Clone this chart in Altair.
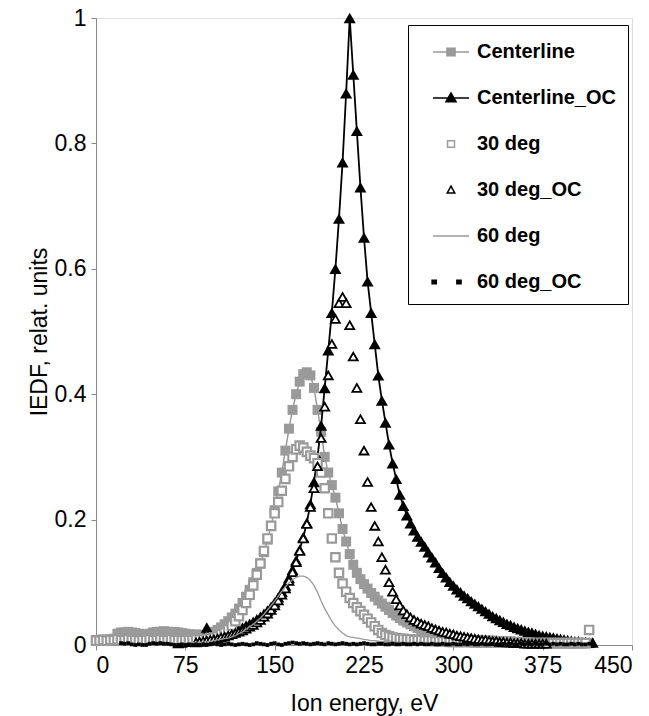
import altair as alt
import pandas as pd

# ---------------- data ----------------
ENERGY = [0, 3, 6, 9, 12, 15, 18, 21, 24, 27,
          30, 33, 36, 39, 42, 45, 48, 51, 54, 57,
          60, 63, 66, 69, 72, 75, 78, 81, 84, 87,
          90, 93, 96, 99, 102, 105, 108, 111, 114, 117,
          120, 123, 126, 129, 132, 135, 138, 141, 144, 147,
          150, 153, 156, 159, 162, 165, 168, 171, 174, 177,
          180, 183, 186, 189, 192, 195, 198, 201, 204, 207,
          210, 213, 216, 219, 222, 225, 228, 231, 234, 237,
          240, 243, 246, 249, 252, 255, 258, 261, 264, 267,
          270, 273, 276, 279, 282, 285, 288, 291, 294, 297,
          300, 303, 306, 309, 312, 315, 318, 321, 324, 327,
          330, 333, 336, 339, 342, 345, 348, 351, 354, 357,
          360, 363, 366, 369, 372, 375, 378, 381, 384, 387,
          390, 393, 396, 399, 402, 405, 408, 411, 414, 417,
          420]

N = None

CENTERLINE = [0.008, 0.008, 0.009, 0.008, 0.009, 0.010, 0.018, 0.020, 0.020, 0.021,
              0.020, 0.019, 0.018, 0.017, 0.016, 0.018, 0.020, 0.021, 0.021, 0.022,
              0.021, 0.020, 0.021, 0.020, 0.019, 0.018, 0.017, 0.016, 0.017, 0.016,
              0.015, 0.016, 0.018, 0.021, 0.024, 0.028, 0.033, 0.038, 0.044, 0.050,
              0.058, 0.067, 0.077, 0.088, 0.100, 0.115, 0.130, 0.148, 0.168, 0.190,
              0.215, 0.245, 0.275, 0.310, 0.345, 0.375, 0.400, 0.420, 0.432, 0.435,
              0.430, 0.410, 0.375, 0.340, 0.300, 0.275, 0.255, 0.235, 0.210, 0.185,
              0.165, 0.145, 0.128, 0.115, 0.105, 0.097, 0.090, 0.083, 0.077, 0.071,
              0.066, 0.061, 0.056, 0.051, 0.047, 0.043, 0.039, 0.036, 0.033, 0.030,
              0.027, 0.024, 0.021, 0.019, 0.017, 0.015, 0.014, 0.013, 0.012, 0.011,
              0.010, 0.010, 0.009, 0.009, 0.009, 0.008, 0.008, 0.008, 0.007, 0.007,
              0.007, 0.007, 0.006, 0.006, 0.006, 0.006, 0.006, 0.005, 0.005, 0.005,
              0.005, 0.005, 0.005, 0.004, 0.004, 0.004, 0.004, 0.004, 0.004, 0.004,
              0.004, 0.003, 0.003, 0.003, 0.003, 0.003, 0.003, 0.003, 0.003, N,
              N]

CENTERLINE_OC = [N, N, N, N, N, N, N, N, N, N,
                 N, N, N, N, N, N, N, N, N, N,
                 N, N, N, 0.003, 0.004, 0.005, 0.006, 0.007, 0.008, 0.009,
                 0.012, 0.028, 0.012, 0.013, 0.014, 0.016, 0.018, 0.020, 0.022, 0.024,
                 0.026, 0.028, 0.031, 0.034, 0.037, 0.041, 0.045, 0.050, 0.055, 0.061,
                 0.068, 0.076, 0.085, 0.095, 0.107, 0.120, 0.135, 0.152, 0.172, 0.195,
                 0.225, 0.260, 0.300, 0.350, 0.410, 0.470, 0.530, 0.600, 0.680, 0.770,
                 0.880, 1.000, 0.910, 0.820, 0.730, 0.650, 0.580, 0.530, 0.480, 0.430,
                 0.390, 0.355, 0.320, 0.290, 0.265, 0.240, 0.222, 0.207, 0.194, 0.183,
                 0.173, 0.165, 0.157, 0.148, 0.140, 0.132, 0.123, 0.115, 0.108, 0.101,
                 0.095, 0.089, 0.084, 0.079, 0.075, 0.070, 0.066, 0.062, 0.058, 0.054,
                 0.050, 0.046, 0.043, 0.040, 0.037, 0.034, 0.032, 0.029, 0.027, 0.025,
                 0.023, 0.021, 0.020, 0.018, 0.016, 0.015, 0.014, 0.013, 0.012, 0.011,
                 0.010, 0.009, 0.008, 0.007, 0.006, 0.006, 0.005, 0.005, 0.004, 0.004,
                 N]

DEG30 = [0.007, 0.007, 0.008, 0.007, 0.008, 0.008, 0.009, 0.008, 0.008, 0.009,
         0.008, 0.008, 0.007, 0.008, 0.008, 0.009, 0.008, 0.008, 0.009, 0.008,
         0.008, 0.009, 0.008, 0.008, 0.007, 0.008, 0.008, 0.008, 0.009, 0.009,
         0.009, 0.010, 0.011, 0.012, 0.014, 0.017, 0.020, 0.025, 0.031, 0.038,
         0.046, 0.056, 0.067, 0.080, 0.095, 0.112, 0.130, 0.150, 0.170, 0.190,
         0.210, 0.228, 0.246, 0.265, 0.285, 0.300, 0.312, 0.318, 0.315, 0.308,
         0.302, 0.298, 0.290, 0.275, 0.250, 0.210, 0.170, 0.140, 0.115, 0.098,
         0.085, 0.075, 0.067, 0.060, 0.054, 0.048, 0.042, 0.036, 0.030, 0.024,
         0.019, 0.016, 0.014, 0.012, 0.011, 0.010, 0.010, 0.009, 0.009, 0.008,
         0.008, 0.008, 0.007, 0.007, 0.007, 0.006, 0.006, 0.006, 0.006, 0.005,
         0.005, 0.005, 0.005, 0.005, 0.005, 0.005, 0.004, 0.004, 0.004, 0.004,
         0.004, 0.004, 0.004, 0.004, 0.004, 0.004, 0.004, 0.004, 0.004, 0.004,
         0.004, 0.004, 0.003, 0.003, 0.003, 0.003, 0.003, 0.003, 0.003, 0.003,
         0.003, 0.003, 0.003, 0.003, 0.003, 0.003, 0.003, 0.003, 0.024, N,
         N]

DEG30_OC = [N, N, N, N, N, N, N, N, N, N,
            N, N, N, N, N, N, N, N, N, N,
            N, N, N, N, N, N, N, N, 0.004, 0.005,
            0.006, 0.007, 0.008, 0.009, 0.010, 0.012, 0.013, 0.015, 0.017, 0.019,
            0.021, 0.023, 0.026, 0.029, 0.032, 0.036, 0.040, 0.045, 0.050, 0.056,
            0.063, 0.071, 0.080, 0.090, 0.102, 0.116, 0.132, 0.150, 0.170, 0.193,
            0.220, 0.250, 0.285, 0.330, 0.380, 0.430, 0.480, 0.520, 0.545, 0.555,
            0.545, 0.510, 0.460, 0.410, 0.360, 0.310, 0.260, 0.220, 0.190, 0.165,
            0.140, 0.120, 0.100, 0.085, 0.073, 0.063, 0.055, 0.049, 0.044, 0.040,
            0.037, 0.034, 0.032, 0.030, 0.027, 0.025, 0.023, 0.021, 0.020, 0.018,
            0.017, 0.015, 0.014, 0.013, 0.012, 0.011, 0.010, 0.009, 0.008, 0.008,
            0.007, 0.006, 0.006, 0.005, 0.005, 0.004, 0.004, 0.003, 0.003, 0.003,
            0.002, 0.002, 0.002, 0.002, 0.002, 0.002, 0.002, N, N, N,
            N, N, N, N, N, N, N, N, N, N,
            N]

DEG60 = [N, N, N, N, N, N, N, N, N, N,
         N, N, N, N, N, N, N, N, N, N,
         0.002, 0.002, 0.002, 0.003, 0.003, 0.003, 0.003, 0.004, 0.004, 0.004,
         0.005, 0.005, 0.006, 0.007, 0.008, 0.009, 0.010, 0.011, 0.013, 0.015,
         0.018, 0.021, 0.025, 0.029, 0.033, 0.038, 0.043, 0.049, 0.056, 0.063,
         0.070, 0.078, 0.086, 0.093, 0.099, 0.104, 0.108, 0.110, 0.110, 0.108,
         0.103, 0.095, 0.084, 0.070, 0.058, 0.048, 0.038, 0.030, 0.024, 0.019,
         0.015, 0.013, 0.012, 0.011, 0.010, 0.009, 0.008, 0.007, 0.007, 0.006,
         0.005, 0.005, 0.005, 0.004, 0.004, 0.004, 0.003, 0.003, 0.003, 0.003,
         0.002, 0.002, 0.002, 0.002, 0.002, 0.002, 0.001, 0.001, 0.001, 0.001,
         0.001, 0.001, N, N, N, N, N, N, N, N,
         N, N, N, N, N, N, N, N, N, N,
         N, N, N, N, N, N, N, N, N, N,
         N, N, N, N, N, N, N, N, N, N,
         N]

DEG60_OC = [N, N, N, N, N, N, N, 0.003, 0.002, 0.003,
            0.001, 0.000, 0.001, 0.000, 0.000, 0.002, 0.003, 0.002, 0.003, 0.002,
            0.002, 0.001, 0.000, 0.000, 0.001, 0.000, 0.001, 0.000, 0.001, 0.000,
            0.001, 0.000, 0.001, 0.002, 0.001, 0.000, 0.001, 0.002, 0.001, 0.000,
            0.001, 0.002, 0.001, 0.000, 0.001, 0.003, 0.002, 0.001, 0.000, 0.002,
            0.003, 0.001, 0.000, 0.002, 0.003, 0.004, 0.003, 0.002, 0.003, 0.002,
            0.001, 0.002, 0.003, 0.002, 0.001, 0.003, 0.002, 0.001, 0.002, 0.003,
            0.002, 0.001, 0.002, 0.001, 0.002, 0.003, 0.002, 0.001, 0.001, 0.002,
            0.002, 0.001, 0.001, 0.002, 0.001, 0.001, 0.002, 0.001, 0.001, 0.002,
            0.001, 0.002, 0.001, 0.001, 0.002, 0.001, 0.001, 0.002, 0.001, 0.001,
            0.002, 0.001, 0.001, 0.002, 0.001, 0.002, 0.001, 0.001, 0.002, 0.001,
            0.001, 0.002, 0.001, 0.001, 0.002, 0.001, 0.002, 0.001, 0.001, 0.002,
            0.001, 0.002, 0.001, 0.002, 0.001, 0.001, 0.002, 0.001, 0.002, 0.001,
            0.002, 0.001, 0.001, 0.002, 0.001, 0.002, 0.001, 0.001, 0.002, 0.002,
            N]

SERIES = ["Centerline", "Centerline_OC", "30 deg", "30 deg_OC", "60 deg", "60 deg_OC"]
X_TICKS = [0, 75, 150, 225, 300, 375, 450]
Y_TICKS = [0, 0.2, 0.4, 0.6, 0.8, 1]

# legend symbols (line + marker, as in the original spreadsheet legend)
LEGEND_SHAPES = [
    "M-1.29,0H1.29M-0.29,-0.27H0.29V0.27H-0.29Z",
    "M-1.29,0H1.29M-0.36,0.26L0.36,0.26L0,-0.36Z",
    "M-0.25,-0.23H0.25V0.23H-0.25Z",
    "M-0.27,0.22L0.27,0.22L0,-0.28Z",
    "M-1.29,0H1.29",
    "M-1.35,-0.12H-1.05V0.12H-1.35Z M0.42,-0.12H0.72V0.12H0.42Z",
]
LEGEND_FILLS = ["#9a9a9a", "black", "white", "white", "transparent", "black"]
LEGEND_STROKES = ["#9a9a9a", "black", "#9a9a9a", "black", "#9a9a9a", "black"]

GRAY = "#9a9a9a"
AXIS_FONT = "Liberation Sans, Arial, sans-serif"
LEGEND_FONT = "Liberation Sans, Arial, sans-serif"


def frame(name, values):
    df = pd.DataFrame({"energy": ENERGY, "iedf": values, "series": name})
    return df.dropna()


X = alt.X("energy:Q",
          scale=alt.Scale(domain=[0, 450], nice=False, zero=False),
          axis=alt.Axis(values=X_TICKS, title="Ion energy, eV", grid=False,
                        labelFontSize=23, titleFontSize=23, titlePadding=15,
                        labelPadding=4, titleFontWeight="normal"))
Y = alt.Y("iedf:Q",
          scale=alt.Scale(domain=[0, 1], nice=False),
          axis=alt.Axis(values=Y_TICKS, title="IEDF, relat. units", grid=False,
                        format="~g", labelFontSize=23, titleFontSize=23,
                        titlePadding=3, labelPadding=5, titleFontWeight="normal"))

cl = frame("Centerline", CENTERLINE)
cloc = frame("Centerline_OC", CENTERLINE_OC)
d30 = frame("30 deg", DEG30)
d30oc = frame("30 deg_OC", DEG30_OC)
d60 = frame("60 deg", DEG60)
d60oc = frame("60 deg_OC", DEG60_OC)

layers = [
    alt.Chart(cl).mark_line(color=GRAY, strokeWidth=1.5).encode(x=X, y=Y),
    alt.Chart(cl).mark_point(shape="square", filled=True, fill=GRAY, size=100,
                             opacity=1).encode(x=X, y=Y),
    alt.Chart(cloc).mark_line(color="black", strokeWidth=1.8).encode(x=X, y=Y),
    alt.Chart(cloc).mark_point(shape="triangle-up", filled=True, fill="black",
                               size=145, opacity=1).encode(x=X, y=Y),
    alt.Chart(d30).mark_point(shape="square", filled=True, fill="white",
                              stroke=GRAY, strokeWidth=2.2, size=70,
                              opacity=1).encode(x=X, y=Y),
    alt.Chart(d30oc).mark_point(shape="triangle-up", filled=True, fill="white",
                                stroke="black", strokeWidth=1.8, size=80,
                                opacity=1).encode(x=X, y=Y),
    alt.Chart(d60).mark_line(color=GRAY, strokeWidth=1.3).encode(x=X, y=Y),
    alt.Chart(d60oc).mark_point(shape="square", filled=True, fill="black",
                                size=14, opacity=1).encode(x=X, y=Y),
]

legend_spec = alt.Legend(
    title=None, orient="none", legendX=312, legendY=7,
    padding=12, symbolOffset=16, labelOffset=11, rowPadding=21,
    symbolSize=784, symbolStrokeWidth=1.5, labelFont=LEGEND_FONT,
    labelFontSize=20, labelFontWeight="bold", labelColor="black", labelLimit=400,
    labelExpr="datum.label + '\u00a0\u00a0'",
    strokeColor="black", fillColor="white",
)

legend_layer = alt.Chart(pd.DataFrame({"series": SERIES})).transform_filter(
    "false"
).mark_point(filled=False, size=784, opacity=1, strokeWidth=1.5).encode(
    shape=alt.Shape("series:N", scale=alt.Scale(domain=SERIES, range=LEGEND_SHAPES),
                    legend=legend_spec),
    fill=alt.Fill("series:N", scale=alt.Scale(domain=SERIES, range=LEGEND_FILLS),
                  legend=legend_spec),
    stroke=alt.Stroke("series:N", scale=alt.Scale(domain=SERIES, range=LEGEND_STROKES),
                      legend=legend_spec),
)

chart = alt.layer(*layers, legend_layer).properties(
    width=536, height=627,
    padding={"left": 96, "top": 18, "right": 17, "bottom": 71},
    autosize="none",
).configure_view(
    stroke="#8f8f8f", strokeWidth=2
).configure_axis(
    domainColor="black", domainWidth=1.5, tickColor="black", tickWidth=1.5,
    tickSize=7, labelFont=AXIS_FONT, labelColor="black", titleFont=AXIS_FONT,
    titleColor="black", titleFontWeight="normal",
).configure(background="white")

chart.save("out.html", embed_options={"renderer": "svg", "actions": False})
